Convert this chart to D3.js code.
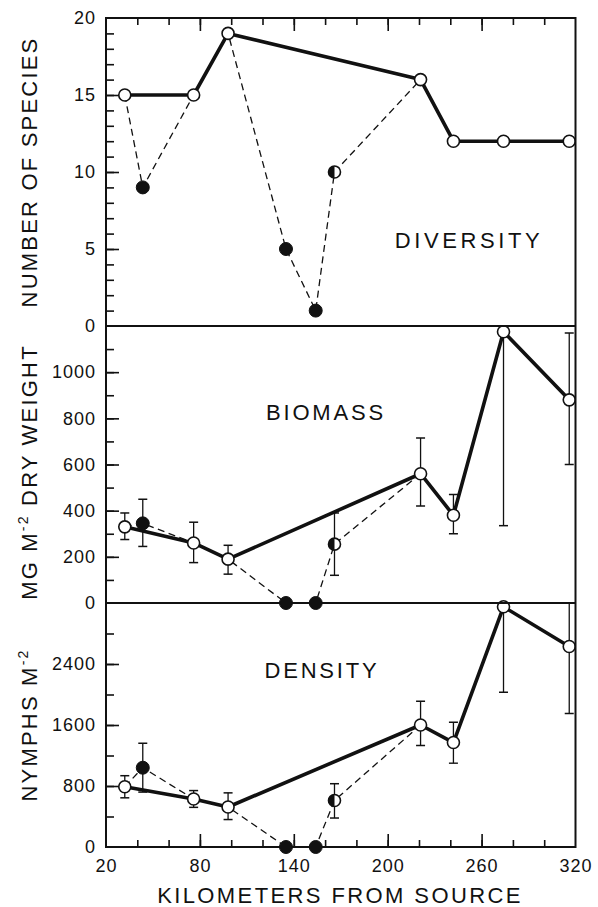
<!DOCTYPE html>
<html><head><meta charset="utf-8">
<script src="https://cdn.jsdelivr.net/npm/d3@7"></script>
<style>
html,body{margin:0;padding:0;background:#fff;}
svg{display:block;}
text{font-family:"Liberation Sans",Arial,sans-serif;fill:#111;}
</style></head>
<body>
<svg id="chart" width="598" height="907"></svg>
<script>
// ---------- DATA ----------
const openKm   = [32, 76, 98, 221, 242, 274, 316];
const filledKm = [43.5, 135, 154];
const halfKm   = [166];
const dashedKm = [32, 43.5, 76, 98, 135, 154, 166, 221];

// Diversity (number of species)
const divOpen   = [15, 15, 19, 16, 12, 12, 12];
const divFilled = [9, 5, 1];
const divHalf   = [10];

// Biomass (mg m-2 dry weight)
const bioOpen     = [330, 260, 190, 560, 380, 1175, 880];
const bioOpenLo   = [275, 175, 125, 420, 300, 335, 600];
const bioOpenHi   = [390, 350, 250, 715, 470, 2015, 1170];
const bioFilled   = [345, 0, 0];
const bioFilledLo = [245, null, null];
const bioFilledHi = [450, null, null];
const bioHalf     = [255];
const bioHalfLo   = [120];
const bioHalfHi   = [390];

// Density (nymphs m-2)
const denOpen     = [790, 630, 525, 1600, 1370, 3150, 2630];
const denOpenLo   = [645, 520, 360, 1330, 1100, 2030, 1750];
const denOpenHi   = [935, 740, 710, 1910, 1635, 4270, 3510];
const denFilled   = [1040, 0, 0];
const denFilledLo = [720, null, null];
const denFilledHi = [1360, null, null];
const denHalf     = [610];
const denHalfLo   = [380];
const denHalfHi   = [830];

// Axis ticks
const xMinorTicks = d3.range(20, 321, 20);
const xMajorTicks = [80, 140, 200, 260];
const xLabels     = [20, 80, 140, 200, 260, 320];
const divMinor = d3.range(0, 21, 1),     divLabels = [0, 5, 10, 15, 20];
const bioMinor = d3.range(0, 1201, 100), bioLabels = [0, 200, 400, 600, 800, 1000];
const denMinor = d3.range(0, 3201, 400), denLabels = [0, 800, 1600, 2400];

// ---------- LAYOUT ----------
const svg = d3.select("#chart");
const X0 = 106, X1 = 575.5;
const x = d3.scaleLinear().domain([20, 320]).range([X0, X1]);

const panels = [
  {id:"div", y: d3.scaleLinear().domain([0, 20]).range([326, 18]),   minor: divMinor, labels: divLabels,
   open: divOpen, filled: divFilled, half: divHalf, name: "DIVERSITY", nx: 469, ny: 248, ls: 3.6,
   title: ["NUMBER OF SPECIES"], ty: 172},
  {id:"bio", y: d3.scaleLinear().domain([0, 1200]).range([603, 326]), minor: bioMinor, labels: bioLabels,
   open: bioOpen, openLo: bioOpenLo, openHi: bioOpenHi, filled: bioFilled, filledLo: bioFilledLo, filledHi: bioFilledHi,
   half: bioHalf, halfLo: bioHalfLo, halfHi: bioHalfHi, name: "BIOMASS", nx: 326, ny: 420, ls: 2.8,
   title: ["MG M", "-2", " DRY WEIGHT"], ty: 472},
  {id:"den", y: d3.scaleLinear().domain([0, 3200]).range([847, 603]), minor: denMinor, labels: denLabels,
   open: denOpen, openLo: denOpenLo, openHi: denOpenHi, filled: denFilled, filledLo: denFilledLo, filledHi: denFilledHi,
   half: denHalf, halfLo: denHalfLo, halfHi: denHalfHi, name: "DENSITY", nx: 322, ny: 678, ls: 2.8,
   title: ["NYMPHS M", "-2"], ty: 725}
];

const R = 6;
const ink = "#111";

panels.forEach((p, pi) => {
  const y = p.y;
  const [yb, yt] = y.range();
  const g = svg.append("g");

  // clip for error bars
  svg.append("clipPath").attr("id", "clip-" + p.id)
    .append("rect").attr("x", X0).attr("y", yt).attr("width", X1 - X0).attr("height", yb - yt);

  // y axis minor ticks
  g.append("g").attr("transform", `translate(${X0},0)`)
    .call(d3.axisLeft(y).tickValues(p.minor.filter(v => v > y.domain()[0] && v < y.domain()[1])).tickSize(-8).tickFormat(""))
    .call(a => { a.select(".domain").remove(); a.selectAll("line").attr("stroke", ink).attr("stroke-width", 1.6); });
  // y axis labelled ticks
  g.append("g").attr("transform", `translate(${X0},0)`)
    .call(d3.axisLeft(y).tickValues(p.labels).tickSize(-13).tickPadding(10).tickFormat(d3.format("d")))
    .call(a => {
      a.select(".domain").remove();
      a.selectAll("line").attr("stroke", ink).attr("stroke-width", 1.6)
        .filter(d => d === y.domain()[0] || d === y.domain()[1]).remove();
      a.selectAll("text").attr("font-size", 18).attr("letter-spacing", 1)
        .attr("font-family", '"Liberation Sans",Arial,sans-serif').attr("fill", ink);
    });

  // dashed line (stations affected downstream)
  const dashedVals = [p.open[0], p.filled[0], p.open[1], p.open[2], p.filled[1], p.filled[2], p.half[0], p.open[3]];
  const line = d3.line().x(d => x(d[0])).y(d => y(d[1]));
  g.append("path").datum(dashedKm.map((k, i) => [k, dashedVals[i]]))
    .attr("d", line).attr("fill", "none").attr("stroke", ink)
    .attr("stroke-width", 1.3).attr("stroke-dasharray", "7,4.5");

  // solid line
  g.append("path").datum(openKm.map((k, i) => [k, p.open[i]]))
    .attr("d", line).attr("fill", "none").attr("stroke", ink)
    .attr("stroke-width", 3.6).attr("stroke-linejoin", "round");

  // error bars
  const eb = g.append("g").attr("clip-path", `url(#clip-${p.id})`);
  const bars = [];
  if (p.openLo) openKm.forEach((k, i) => bars.push([k, p.openLo[i], p.openHi[i]]));
  if (p.filledLo) filledKm.forEach((k, i) => { if (p.filledLo[i] != null) bars.push([k, p.filledLo[i], p.filledHi[i]]); });
  if (p.halfLo) halfKm.forEach((k, i) => bars.push([k, p.halfLo[i], p.halfHi[i]]));
  bars.forEach(b => {
    const cx = x(b[0]);
    eb.append("line").attr("x1", cx).attr("x2", cx).attr("y1", y(b[1])).attr("y2", y(b[2]))
      .attr("stroke", ink).attr("stroke-width", 1.3);
    [b[1], b[2]].forEach(v => {
      eb.append("line").attr("x1", cx - 4.5).attr("x2", cx + 4.5).attr("y1", y(v)).attr("y2", y(v))
        .attr("stroke", ink).attr("stroke-width", 1.5);
    });
  });

  // markers
  g.selectAll(".open").data(openKm.map((k, i) => [k, p.open[i]])).join("circle")
    .attr("cx", d => x(d[0])).attr("cy", d => y(d[1])).attr("r", R)
    .attr("fill", "#fff").attr("stroke", ink).attr("stroke-width", 1.6);
  g.selectAll(".filled").data(filledKm.map((k, i) => [k, p.filled[i]])).join("circle")
    .attr("cx", d => x(d[0])).attr("cy", d => y(d[1])).attr("r", R + 0.5)
    .attr("fill", ink).attr("stroke", ink).attr("stroke-width", 1);
  halfKm.forEach((k, i) => {
    const cx = x(k), cy = y(p.half[i]);
    g.append("circle").attr("cx", cx).attr("cy", cy).attr("r", R)
      .attr("fill", "#fff").attr("stroke", ink).attr("stroke-width", 1.6);
    g.append("path")
      .attr("d", `M${cx},${cy - R} A${R},${R} 0 0 0 ${cx},${cy + R} Z`)
      .attr("fill", ink);
  });

  // panel name
  svg.append("text").attr("x", p.nx).attr("y", p.ny).attr("text-anchor", "middle")
    .attr("font-size", 22).attr("letter-spacing", p.ls).text(p.name);

  // y title
  const t = svg.append("text").attr("transform", `translate(37,${p.ty}) rotate(-90)`)
    .attr("text-anchor", "middle").attr("font-size", 22).attr("letter-spacing", 2.2);
  p.title.forEach((s, i) => {
    if (s === "-2") t.append("tspan").attr("font-size", 14).attr("dy", -9).text("-2");
    else t.append("tspan").attr("dy", i > 0 ? 9 : 0).text(s);
  });
});

// panel frame and separators
svg.append("rect").attr("x", X0).attr("y", 18).attr("width", X1 - X0).attr("height", 847 - 18)
  .attr("fill", "none").attr("stroke", ink).attr("stroke-width", 2);
[326, 603].forEach(v => svg.append("line").attr("x1", X0).attr("x2", X1).attr("y1", v).attr("y2", v)
  .attr("stroke", ink).attr("stroke-width", 2));

// top x ticks
const styleTicks = a => { a.select(".domain").remove(); a.selectAll("line").attr("stroke", ink).attr("stroke-width", 1.6); };
svg.append("g").attr("transform", "translate(0,18)")
  .call(d3.axisTop(x).tickValues(xMinorTicks.filter(v => v > 20 && v < 320)).tickSize(-7).tickFormat(""))
  .call(styleTicks);
svg.append("g").attr("transform", "translate(0,18)")
  .call(d3.axisTop(x).tickValues(xMajorTicks).tickSize(-13).tickFormat(""))
  .call(styleTicks);

// bottom x ticks
svg.append("g").attr("transform", "translate(0,847)")
  .call(d3.axisBottom(x).tickValues(xMinorTicks.filter(v => v > 20 && v < 320)).tickSize(-7).tickFormat(""))
  .call(styleTicks);
svg.append("g").attr("transform", "translate(0,847)")
  .call(d3.axisBottom(x).tickValues(xMajorTicks).tickSize(-13).tickFormat(""))
  .call(styleTicks);
svg.append("g").attr("transform", "translate(0,847)")
  .call(d3.axisBottom(x).tickValues(xLabels).tickSize(0).tickPadding(12).tickFormat(d3.format("d")))
  .call(a => {
    a.select(".domain").remove();
    a.selectAll("text").attr("font-size", 18).attr("letter-spacing", 1)
      .attr("font-family", '"Liberation Sans",Arial,sans-serif').attr("fill", ink);
  });

// x title
svg.append("text").attr("x", 340).attr("y", 903).attr("text-anchor", "middle")
  .attr("font-size", 22).attr("letter-spacing", 2.4).text("KILOMETERS FROM SOURCE");
</script>
</body></html>
